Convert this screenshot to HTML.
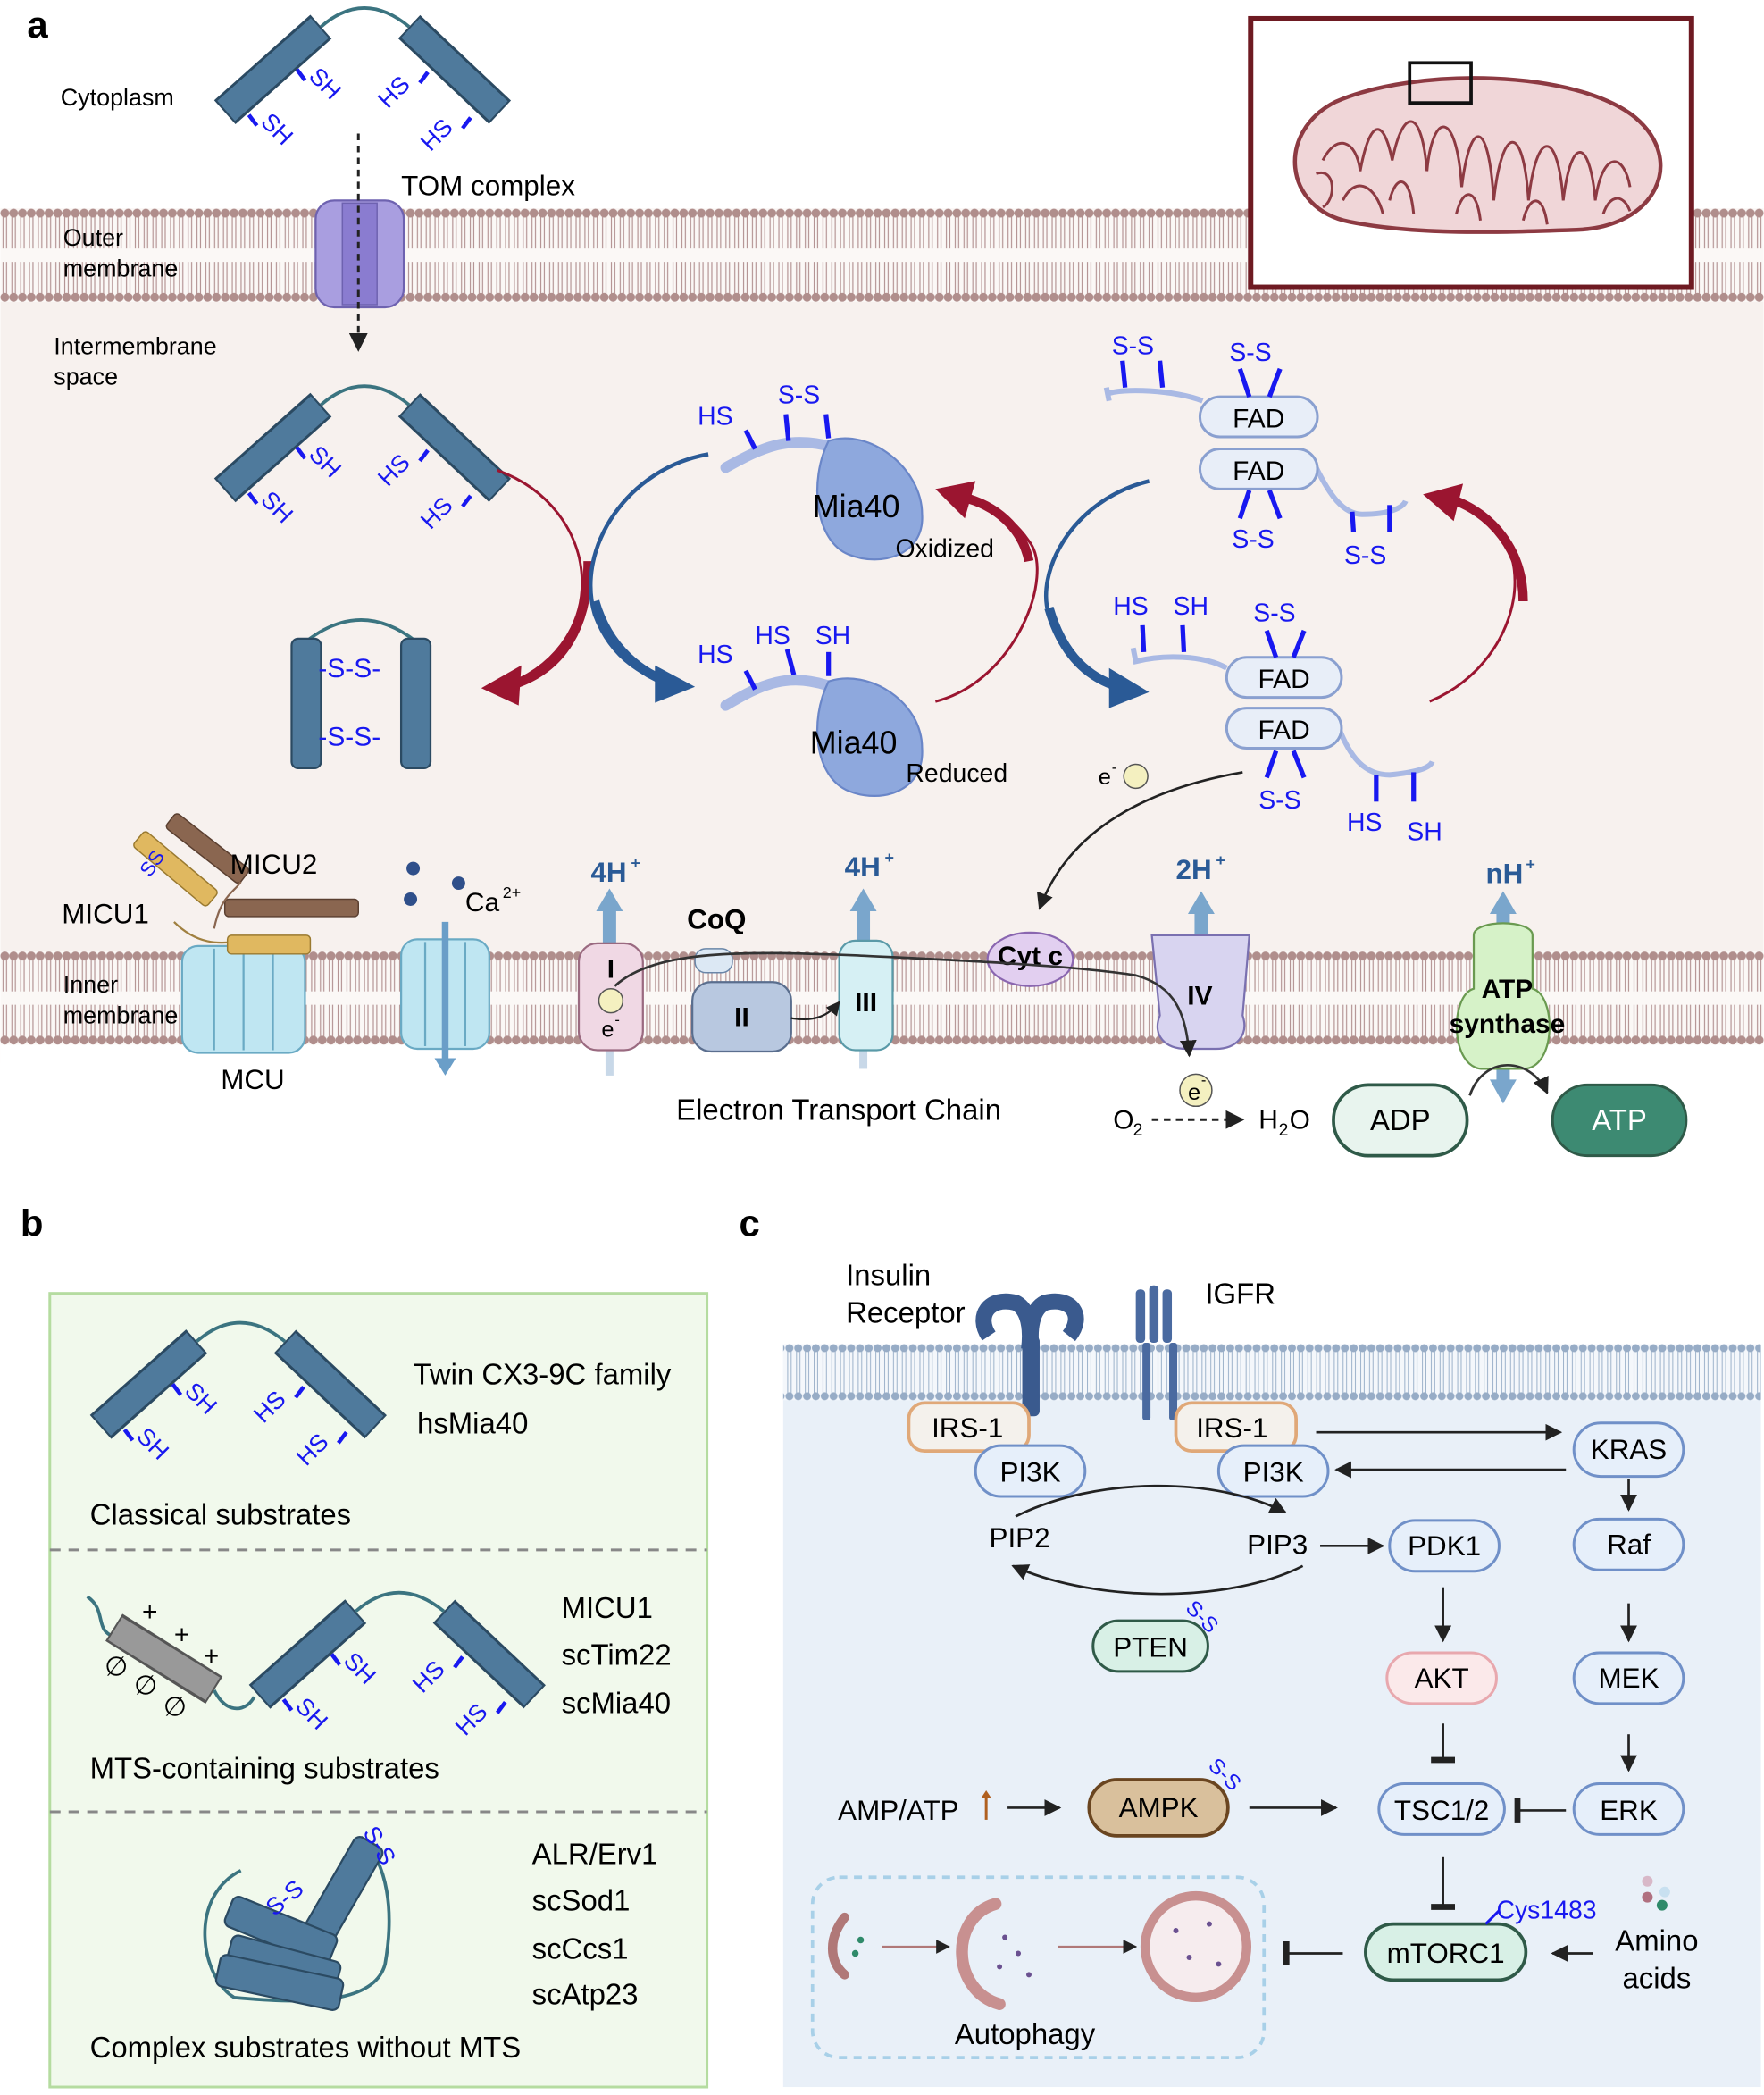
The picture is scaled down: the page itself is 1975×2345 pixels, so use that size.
<!DOCTYPE html>
<html><head><meta charset="utf-8"><style>
html,body{margin:0;padding:0;background:#fff}
svg{display:block}
text{font-family:"Liberation Sans",sans-serif}
</style></head><body>
<svg width="1975" height="2345" viewBox="0 0 1320 1568" xmlns="http://www.w3.org/2000/svg">
<defs>
<pattern id="lip" x="0" y="0" width="6.6" height="70" patternUnits="userSpaceOnUse" patternTransform="translate(0,156)">
<line x1="2" y1="6" x2="2" y2="30" stroke="#b49494" stroke-width="0.8"/>
<line x1="4.6" y1="6" x2="4.6" y2="30" stroke="#b49494" stroke-width="0.8"/>
<line x1="2" y1="40" x2="2" y2="64" stroke="#b49494" stroke-width="0.8"/>
<line x1="4.6" y1="40" x2="4.6" y2="64" stroke="#b49494" stroke-width="0.8"/>
<circle cx="3.3" cy="3.5" r="3.3" fill="#b08e8c"/>
<circle cx="3.3" cy="66.5" r="3.3" fill="#b08e8c"/>
</pattern>
<pattern id="lip2" x="0" y="0" width="6.6" height="70" patternUnits="userSpaceOnUse" patternTransform="translate(0,712)">
<line x1="2" y1="6" x2="2" y2="30" stroke="#b49494" stroke-width="0.8"/>
<line x1="4.6" y1="6" x2="4.6" y2="30" stroke="#b49494" stroke-width="0.8"/>
<line x1="2" y1="40" x2="2" y2="64" stroke="#b49494" stroke-width="0.8"/>
<line x1="4.6" y1="40" x2="4.6" y2="64" stroke="#b49494" stroke-width="0.8"/>
<circle cx="3.3" cy="3.5" r="3.3" fill="#b08e8c"/>
<circle cx="3.3" cy="66.5" r="3.3" fill="#b08e8c"/>
</pattern>
<pattern id="lipb" x="0" y="0" width="6.6" height="42" patternUnits="userSpaceOnUse" patternTransform="translate(0,1006)">
<line x1="2" y1="5" x2="2" y2="37" stroke="#9fb4cc" stroke-width="0.7"/>
<line x1="4.6" y1="5" x2="4.6" y2="37" stroke="#9fb4cc" stroke-width="0.7"/>
<circle cx="3.3" cy="3" r="3" fill="#97acc6"/>
<circle cx="3.3" cy="39" r="3" fill="#97acc6"/>
</pattern>
<marker id="ah" viewBox="0 0 10 10" refX="9" refY="5" markerWidth="7" markerHeight="7" orient="auto"><path d="M0,0 L10,5 L0,10z" fill="#222"/></marker>
<marker id="tb" viewBox="0 0 4 12" refX="2" refY="6" markerWidth="4" markerHeight="10" orient="auto"><rect x="0" y="0" width="3" height="12" fill="#222"/></marker>
<g id="twin">
<path d="M80,10 Q112,-18 146,10" fill="none" stroke="#3b7480" stroke-width="2.5"/>
<line x1="8" y1="74" x2="80" y2="10" stroke="#2b4a62" stroke-width="24"/>
<line x1="9" y1="73" x2="79" y2="11" stroke="#4f7a9c" stroke-width="20"/>
<line x1="146" y1="10" x2="214" y2="74" stroke="#2b4a62" stroke-width="24"/>
<line x1="147" y1="11" x2="213" y2="73" stroke="#4f7a9c" stroke-width="20"/>
<g fill="#1818f0" font-size="18">
<line x1="62" y1="42" x2="68" y2="50" stroke="#1818f0" stroke-width="3"/>
<text x="70" y="48" transform="rotate(45 70 48)">SH</text>
<line x1="26" y1="76" x2="32" y2="84" stroke="#1818f0" stroke-width="3"/>
<text x="34" y="82" transform="rotate(45 34 82)">SH</text>
<line x1="160" y1="44" x2="154" y2="52" stroke="#1818f0" stroke-width="3"/>
<text x="130" y="72" transform="rotate(-45 130 72)">HS</text>
<line x1="192" y1="78" x2="186" y2="86" stroke="#1818f0" stroke-width="3"/>
<text x="162" y="104" transform="rotate(-45 162 104)">HS</text>
</g>
</g>
</defs>

<rect x="0" y="156" width="1320" height="640" fill="#f7f1ee"/>
<rect x="0" y="156" width="1320" height="70" fill="#fbf8f6"/>
<rect x="0" y="156" width="1320" height="70" fill="url(#lip)"/>
<rect x="0" y="712" width="1320" height="70" fill="#fbf8f6"/>
<rect x="0" y="712" width="1320" height="70" fill="url(#lip2)"/>
<rect x="0" y="782" width="1320" height="100" fill="#ffffff"/>

<text x="20" y="28" font-size="28" font-weight="bold">a</text>
<text x="45" y="79" font-size="18">Cytoplasm</text>
<text x="47" y="184" font-size="18">Outer</text>
<text x="47" y="207" font-size="18">membrane</text>
<text x="40" y="265" font-size="18">Intermembrane</text>
<text x="40" y="288" font-size="18">space</text>
<text x="47" y="743" font-size="18">Inner</text>
<text x="47" y="766" font-size="18">membrane</text>

<use href="#twin" x="160" y="10"/>
<rect x="236" y="150" width="66" height="80" rx="14" fill="#a99ee0" stroke="#6e62b0" stroke-width="1.5"/>
<rect x="256" y="152" width="26" height="76" fill="#8a7cd0" stroke="#6e62b0"/>
<line x1="268" y1="100" x2="268" y2="262" stroke="#222" stroke-width="2" stroke-dasharray="5,4" marker-end="url(#ah)"/>
<text x="300" y="146" font-size="21">TOM complex</text>

<rect x="936" y="14" width="330" height="201" fill="#fff" stroke="#6e1a22" stroke-width="4"/>
<path d="M1000,76 C1060,50 1180,52 1224,88 C1262,120 1240,170 1180,172 C1120,174 1060,176 1010,166 C960,156 955,98 1000,76z" fill="#f0d6d8" stroke="#8d3a42" stroke-width="3"/>
<path d="M990,120 C1000,100 1015,104 1018,128 C1025,90 1035,86 1042,120 C1050,80 1064,80 1068,128 C1072,84 1090,80 1094,140 C1100,90 1114,86 1118,150 C1124,94 1140,90 1144,150 C1150,96 1166,96 1170,150 C1176,100 1190,104 1194,150 C1200,110 1216,116 1220,140 M1005,150 C1015,130 1030,140 1035,160 M985,130 C1000,125 1000,150 990,155 M1040,150 C1045,130 1055,130 1058,160 M1090,160 C1095,140 1105,140 1108,165 M1140,165 C1145,145 1155,145 1158,168 M1200,160 C1205,145 1215,145 1220,158" fill="none" stroke="#8d3a42" stroke-width="2"/>
<rect x="1055" y="47" width="46" height="30" fill="none" stroke="#111" stroke-width="2.5"/>

<use href="#twin" x="160" y="293"/>
<path d="M229,480 Q270,448 311,480" fill="none" stroke="#3b7480" stroke-width="2.5"/>
<rect x="218" y="478" width="22" height="97" rx="5" fill="#4f7a9c" stroke="#2b4a62" stroke-width="1.5"/>
<rect x="300" y="478" width="22" height="97" rx="5" fill="#4f7a9c" stroke="#2b4a62" stroke-width="1.5"/>
<g fill="#1818f0" font-size="20"><text x="238" y="507">-S-S-</text><text x="238" y="558">-S-S-</text></g>

<path d="M372,352 C450,380 460,480 380,512" fill="none" stroke="#9b1530" stroke-width="2"/>
<path d="M440,420 C440,470 420,500 385,512" fill="none" stroke="#9b1530" stroke-width="7"/>
<path d="M360,515 L390,498 L388,528z" fill="#9b1530"/>
<path d="M530,340 C470,350 430,410 445,460 C458,495 485,508 505,512" fill="none" stroke="#2a5a96" stroke-width="3"/>
<path d="M445,450 C455,485 480,505 505,512" fill="none" stroke="#2a5a96" stroke-width="7"/>
<path d="M520,514 L490,498 L490,526z" fill="#2a5a96"/>

<path d="M543,350 C570,335 590,325 625,335" fill="none" stroke="#a9b9e4" stroke-width="8" stroke-linecap="round"/>
<path d="M620,330 C650,320 690,350 690,385 C692,415 660,425 635,415 C610,405 605,360 620,330z" fill="#8ea8dd" stroke="#6a86c8" stroke-width="1.5"/>
<text x="608" y="387" font-size="24">Mia40</text>
<text x="670" y="417" font-size="19">Oxidized</text>
<g stroke="#1818f0" stroke-width="3.5"><line x1="558" y1="322" x2="565" y2="336"/><line x1="588" y1="310" x2="590" y2="330"/><line x1="618" y1="310" x2="620" y2="328"/></g>
<g fill="#1818f0" font-size="19"><text x="522" y="318">HS</text><text x="582" y="302">S-S</text></g>
<path d="M700,525 C760,510 790,430 770,405 C760,390 740,375 720,372" fill="none" stroke="#9b1530" stroke-width="2"/>
<path d="M770,420 C765,395 745,378 720,372" fill="none" stroke="#9b1530" stroke-width="7"/>
<path d="M700,366 L730,360 L722,388z" fill="#9b1530"/>
<path d="M543,528 C570,512 590,502 625,515" fill="none" stroke="#a9b9e4" stroke-width="8" stroke-linecap="round"/>
<path d="M620,510 C650,500 690,525 690,560 C692,592 660,602 635,592 C610,582 605,540 620,510z" fill="#8ea8dd" stroke="#6a86c8" stroke-width="1.5"/>
<text x="606" y="564" font-size="24">Mia40</text>
<text x="678" y="585" font-size="19">Reduced</text>
<g stroke="#1818f0" stroke-width="3.5"><line x1="558" y1="502" x2="565" y2="516"/><line x1="589" y1="486" x2="594" y2="505"/><line x1="620" y1="488" x2="620" y2="506"/></g>
<g fill="#1818f0" font-size="19"><text x="522" y="496">HS</text><text x="565" y="482">HS</text><text x="610" y="482">SH</text></g>

<path d="M860,360 C800,375 775,430 785,460 C795,490 820,510 845,516" fill="none" stroke="#2a5a96" stroke-width="3"/>
<path d="M785,455 C795,490 815,510 845,516" fill="none" stroke="#2a5a96" stroke-width="7"/>
<path d="M860,518 L830,500 L830,530z" fill="#2a5a96"/>
<path d="M1070,525 C1130,500 1150,430 1120,395" fill="none" stroke="#9b1530" stroke-width="2"/>
<path d="M1140,450 C1140,410 1115,385 1090,375" fill="none" stroke="#9b1530" stroke-width="7"/>
<path d="M1065,370 L1095,362 L1088,390z" fill="#9b1530"/>

<path d="M828,295 C840,290 880,292 900,300" fill="none" stroke="#a9b9e4" stroke-width="4"/>
<path d="M828,290 L830,300" stroke="#a9b9e4" stroke-width="4"/>
<path d="M985,350 C995,370 1005,385 1020,385 C1040,385 1050,380 1052,375" fill="none" stroke="#a9b9e4" stroke-width="4"/>
<rect x="898" y="297" width="88" height="30" rx="15" fill="#e8eef8" stroke="#8aa0d0" stroke-width="2"/>
<rect x="898" y="336" width="88" height="30" rx="15" fill="#e8eef8" stroke="#8aa0d0" stroke-width="2"/>
<text x="942" y="320" font-size="20" text-anchor="middle">FAD</text>
<text x="942" y="359" font-size="20" text-anchor="middle">FAD</text>
<g stroke="#1818f0" stroke-width="3.5"><line x1="840" y1="270" x2="842" y2="290"/><line x1="868" y1="270" x2="870" y2="290"/><line x1="928" y1="276" x2="935" y2="297"/><line x1="958" y1="276" x2="950" y2="297"/><line x1="928" y1="388" x2="935" y2="367"/><line x1="958" y1="388" x2="950" y2="367"/><line x1="1012" y1="383" x2="1013" y2="398"/><line x1="1040" y1="378" x2="1040" y2="398"/></g>
<g fill="#1818f0" font-size="19"><text x="832" y="265">S-S</text><text x="920" y="270">S-S</text><text x="922" y="410">S-S</text><text x="1006" y="422">S-S</text></g>
<path d="M848,485 L850,495 C870,490 900,490 918,500" fill="none" stroke="#a9b9e4" stroke-width="4"/>
<path d="M1002,545 C1010,565 1020,580 1040,580 C1060,578 1070,575 1072,570" fill="none" stroke="#a9b9e4" stroke-width="4"/>
<rect x="918" y="492" width="86" height="30" rx="15" fill="#e8eef8" stroke="#8aa0d0" stroke-width="2"/>
<rect x="918" y="530" width="86" height="30" rx="15" fill="#e8eef8" stroke="#8aa0d0" stroke-width="2"/>
<text x="961" y="515" font-size="20" text-anchor="middle">FAD</text>
<text x="961" y="553" font-size="20" text-anchor="middle">FAD</text>
<g stroke="#1818f0" stroke-width="3.5"><line x1="855" y1="468" x2="856" y2="488"/><line x1="885" y1="468" x2="886" y2="488"/><line x1="948" y1="472" x2="955" y2="492"/><line x1="976" y1="472" x2="968" y2="492"/><line x1="948" y1="582" x2="955" y2="562"/><line x1="976" y1="582" x2="968" y2="562"/><line x1="1030" y1="580" x2="1030" y2="600"/><line x1="1058" y1="578" x2="1058" y2="600"/></g>
<g fill="#1818f0" font-size="19"><text x="833" y="460">HS</text><text x="878" y="460">SH</text><text x="938" y="465">S-S</text><text x="942" y="605">S-S</text><text x="1008" y="622">HS</text><text x="1053" y="629">SH</text></g>
<text x="822" y="587" font-size="17">e</text><text x="832" y="578" font-size="11">-</text>
<circle cx="850" cy="581" r="9" fill="#f4f0c0" stroke="#555"/>
<path d="M930,578 C860,590 800,620 778,680" fill="none" stroke="#222" stroke-width="1.8" marker-end="url(#ah)"/>

<g transform="rotate(40 130 650)"><rect x="95" y="642" width="72" height="15" rx="3" fill="#e0b860" stroke="#9a7a30"/></g>
<g transform="rotate(38 155 635)"><rect x="120" y="628" width="70" height="14" rx="3" fill="#8a6650" stroke="#5a3f30"/></g>
<rect x="168" y="673" width="100" height="13" rx="3" fill="#8a6650" stroke="#5a3f30"/>
<path d="M160,695 C165,670 175,668 180,660" fill="none" stroke="#8a6650" stroke-width="1.5"/>
<path d="M130,690 C150,710 170,705 175,705" fill="none" stroke="#a08040" stroke-width="1.5"/>
<text x="102" y="652" font-size="15" fill="#1818f0" transform="rotate(-55 112 645)">SS</text>
<text x="172" y="654" font-size="21">MICU2</text>
<text x="46" y="691" font-size="21">MICU1</text>
<rect x="136" y="708" width="92" height="80" rx="12" fill="#bfe6f2" stroke="#6aaac4" stroke-width="1.5"/>
<line x1="160" y1="710" x2="160" y2="786" stroke="#6aaac4" stroke-width="1.5"/>
<line x1="182" y1="710" x2="182" y2="786" stroke="#6aaac4" stroke-width="1.5"/>
<line x1="204" y1="710" x2="204" y2="786" stroke="#6aaac4" stroke-width="1.5"/>
<rect x="170" y="700" width="62" height="14" rx="3" fill="#e0b860" stroke="#9a7a30"/>
<text x="165" y="815" font-size="21">MCU</text>
<rect x="300" y="703" width="66" height="82" rx="12" fill="#bfe6f2" stroke="#6aaac4" stroke-width="1.5"/>
<line x1="318" y1="705" x2="318" y2="783" stroke="#6aaac4" stroke-width="1.5"/>
<line x1="348" y1="705" x2="348" y2="783" stroke="#6aaac4" stroke-width="1.5"/>
<line x1="333" y1="690" x2="333" y2="795" stroke="#6a9ec8" stroke-width="5"/>
<path d="M325,792 L341,792 L333,805z" fill="#6a9ec8"/>
<g fill="#2f4f8a"><circle cx="309" cy="650" r="5"/><circle cx="307" cy="673" r="5"/><circle cx="343" cy="661" r="5"/></g>
<text x="348" y="682" font-size="20">Ca</text><text x="376" y="672" font-size="12">2+</text>

<g fill="#7aa6cc"><rect x="451" y="680" width="10" height="30"/><path d="M446,682 L466,682 L456,665z"/>
<rect x="641" y="680" width="10" height="30"/><path d="M636,682 L656,682 L646,665z"/>
<rect x="894" y="680" width="10" height="24"/><path d="M889,684 L909,684 L899,667z"/>
<rect x="1120" y="680" width="10" height="20"/><path d="M1115,684 L1135,684 L1125,667z"/>
<rect x="1120" y="795" width="10" height="15"/><path d="M1115,808 L1135,808 L1125,826z"/></g>
<rect x="453" y="785" width="6" height="20" fill="#c8d8e8"/>
<rect x="643" y="785" width="6" height="15" fill="#c8d8e8"/>
<g fill="#2a5a96" font-size="21" font-weight="bold"><text x="442" y="660">4H</text><text x="632" y="656">4H</text><text x="880" y="658">2H</text><text x="1112" y="661">nH</text></g>
<g fill="#2a5a96" font-size="12" font-weight="bold"><text x="472" y="650">+</text><text x="662" y="646">+</text><text x="910" y="648">+</text><text x="1142" y="651">+</text></g>
<rect x="433" y="706" width="48" height="80" rx="14" fill="#f0d8e4" stroke="#9a6a80" stroke-width="1.5"/>
<text x="457" y="732" font-size="20" font-weight="bold" text-anchor="middle">I</text>
<circle cx="457" cy="749" r="9" fill="#f4f0c0" stroke="#555"/>
<text x="450" y="776" font-size="17">e</text><text x="460" y="767" font-size="11">-</text>
<text x="514" y="695" font-size="21" font-weight="bold">CoQ</text>
<rect x="520" y="710" width="28" height="18" rx="8" fill="#dce8f4" stroke="#6a86a8"/>
<rect x="518" y="735" width="74" height="52" rx="14" fill="#b8c8e0" stroke="#5a6e8e" stroke-width="1.5"/>
<text x="555" y="768" font-size="20" font-weight="bold" text-anchor="middle">II</text>
<rect x="628" y="704" width="40" height="82" rx="12" fill="#d6f0f4" stroke="#5a9aa8" stroke-width="1.5"/>
<text x="648" y="757" font-size="20" font-weight="bold" text-anchor="middle">III</text>
<path d="M592,762 C610,765 620,760 628,750" fill="none" stroke="#222" stroke-width="1.5" marker-end="url(#ah)"/>
<ellipse cx="771" cy="718" rx="32" ry="20" fill="#e2cff0" stroke="#8a66b0" stroke-width="1.5"/>
<text x="771" y="722" font-size="20" font-weight="bold" text-anchor="middle">Cyt c</text>
<path d="M862,700 L935,700 L930,760 C935,775 925,785 910,785 L888,785 C872,785 862,775 868,760z" fill="#d8d4f0" stroke="#7a70b0" stroke-width="1.5"/>
<text x="898" y="752" font-size="20" font-weight="bold" text-anchor="middle">IV</text>
<path d="M460,738 C490,710 560,712 640,715 C700,718 800,722 850,730 C880,738 888,760 890,790" fill="none" stroke="#333" stroke-width="1.8" marker-end="url(#ah)"/>
<circle cx="895" cy="816" r="12" fill="#f4f0c0" stroke="#555"/>
<text x="889" y="823" font-size="17">e</text><text x="899" y="812" font-size="11">-</text>
<path d="M1103,700 C1103,688 1147,688 1147,700 L1147,740 C1165,745 1165,800 1140,800 L1110,800 C1085,800 1085,745 1103,740z" fill="#d6f2c8" stroke="#6a9a50" stroke-width="1.5"/>
<text x="1128" y="747" font-size="20" font-weight="bold" text-anchor="middle">ATP</text>
<text x="1128" y="773" font-size="20" font-weight="bold" text-anchor="middle">synthase</text>
<path d="M1100,820 C1110,790 1145,790 1158,818" fill="none" stroke="#333" stroke-width="1.8" marker-end="url(#ah)"/>
<rect x="998" y="812" width="100" height="53" rx="26" fill="#e8f4ee" stroke="#2f5a48" stroke-width="2.5"/>
<text x="1048" y="846" font-size="22" text-anchor="middle">ADP</text>
<rect x="1162" y="812" width="100" height="53" rx="26" fill="#3d8a72" stroke="#2f5a48" stroke-width="2"/>
<text x="1212" y="846" font-size="22" text-anchor="middle" fill="#fff">ATP</text>
<text x="506" y="838" font-size="22">Electron Transport Chain</text>
<text x="833" y="845" font-size="20">O</text><text x="848" y="850" font-size="13">2</text>
<line x1="862" y1="838" x2="930" y2="838" stroke="#222" stroke-width="2" stroke-dasharray="5,4" marker-end="url(#ah)"/>
<text x="942" y="845" font-size="20">H</text><text x="957" y="850" font-size="13">2</text><text x="965" y="845" font-size="20">O</text>

<text x="15" y="925" font-size="28" font-weight="bold">b</text>
<rect x="37" y="968" width="492" height="594" fill="#f1f9ec" stroke="#b5dca0" stroke-width="2"/>
<line x1="37" y1="1160" x2="529" y2="1160" stroke="#888" stroke-width="2" stroke-dasharray="8,6"/>
<line x1="37" y1="1356" x2="529" y2="1356" stroke="#888" stroke-width="2" stroke-dasharray="8,6"/>
<use href="#twin" x="67" y="994"/>
<text x="309" y="1036" font-size="22">Twin CX3-9C family</text>
<text x="312" y="1073" font-size="22">hsMia40</text>
<text x="67" y="1141" font-size="22">Classical substrates</text>
<path d="M65,1195 C80,1205 70,1220 85,1225" fill="none" stroke="#3b7480" stroke-width="2.5"/>
<path d="M160,1265 C170,1285 185,1280 190,1270" fill="none" stroke="#3b7480" stroke-width="2.5"/>
<line x1="85" y1="1218" x2="160" y2="1265" stroke="#555" stroke-width="24"/>
<line x1="86" y1="1219" x2="159" y2="1264" stroke="#999" stroke-width="20"/>
<g font-size="20"><text x="106" y="1213">+</text><text x="130" y="1230">+</text><text x="152" y="1246">+</text><text x="78" y="1254">∅</text><text x="100" y="1268">∅</text><text x="122" y="1284">∅</text></g>
<use href="#twin" x="186" y="1196"/>
<text x="420" y="1211" font-size="22">MICU1</text>
<text x="420" y="1246" font-size="22">scTim22</text>
<text x="420" y="1282" font-size="22">scMia40</text>
<text x="67" y="1331" font-size="22">MTS-containing substrates</text>
<path d="M180,1400 C140,1420 150,1480 175,1495 C230,1500 280,1500 288,1470 C295,1430 290,1395 270,1375" fill="none" stroke="#3b7480" stroke-width="2.5"/>
<g stroke="#2b4a62" stroke-width="1.5" fill="#4f7a9c">
<g transform="rotate(-60 255 1418)"><rect x="210" y="1406" width="90" height="24" rx="5"/></g>
<g transform="rotate(22 210 1445)"><rect x="168" y="1433" width="84" height="24" rx="5"/></g>
<g transform="rotate(15 212 1470)"><rect x="170" y="1458" width="84" height="24" rx="5"/></g>
<g transform="rotate(12 210 1484)"><rect x="162" y="1472" width="94" height="24" rx="5"/></g>
</g>
<text x="198" y="1425" font-size="18" fill="#1818f0" transform="rotate(-40 215 1420)">S-S</text>
<text x="266" y="1380" font-size="18" fill="#1818f0" transform="rotate(60 276 1380)">S-S</text>
<text x="398" y="1395" font-size="22">ALR/Erv1</text>
<text x="398" y="1430" font-size="22">scSod1</text>
<text x="398" y="1466" font-size="22">scCcs1</text>
<text x="398" y="1500" font-size="22">scAtp23</text>
<text x="67" y="1540" font-size="22">Complex substrates without MTS</text>

<text x="553" y="925" font-size="28" font-weight="bold">c</text>
<rect x="586" y="1006" width="732" height="556" fill="#e9f0f8"/>
<rect x="586" y="1006" width="732" height="42" fill="#f4f7fb"/>
<rect x="586" y="1006" width="732" height="42" fill="url(#lipb)"/>
<text x="633" y="962" font-size="22">Insulin</text>
<text x="633" y="990" font-size="22">Receptor</text>
<path d="M740,1000 C730,985 740,970 760,975 C770,980 772,995 770,1010 M800,1000 C812,985 802,970 782,975 C772,980 770,995 772,1010" fill="none" stroke="#3a5a8e" stroke-width="12"/>
<rect x="765" y="1000" width="13" height="60" rx="4" fill="#3a5a8e"/>
<g fill="#4a6aa0"><rect x="850" y="965" width="7" height="40" rx="3"/><rect x="860" y="962" width="7" height="43" rx="3"/><rect x="870" y="965" width="7" height="40" rx="3"/><rect x="855" y="1005" width="6" height="58" rx="2"/><rect x="875" y="1005" width="6" height="58" rx="2"/></g>
<text x="902" y="976" font-size="22">IGFR</text>
<g stroke-width="2.5">
<rect x="680" y="1050" width="90" height="36" rx="12" fill="#f4f1ec" stroke="#e0a878"/>
<rect x="880" y="1050" width="90" height="36" rx="12" fill="#f4f1ec" stroke="#e0a878"/>
</g>
<text x="724" y="1076" font-size="21" text-anchor="middle">IRS-1</text>
<text x="922" y="1076" font-size="21" text-anchor="middle">IRS-1</text>
<g fill="#e6effa" stroke="#7090c8" stroke-width="2">
<rect x="730" y="1082" width="82" height="38" rx="19"/>
<rect x="912" y="1082" width="82" height="38" rx="19"/>
<rect x="1178" y="1065" width="82" height="40" rx="20"/>
<rect x="1040" y="1138" width="82" height="38" rx="19"/>
<rect x="1178" y="1137" width="82" height="38" rx="19"/>
<rect x="1178" y="1237" width="82" height="38" rx="19"/>
<rect x="1032" y="1335" width="94" height="38" rx="19"/>
<rect x="1178" y="1335" width="82" height="38" rx="19"/>
</g>
<g font-size="21" text-anchor="middle">
<text x="771" y="1109">PI3K</text><text x="953" y="1109">PI3K</text><text x="1219" y="1092">KRAS</text>
<text x="1081" y="1164">PDK1</text><text x="1219" y="1163">Raf</text><text x="1219" y="1263">MEK</text>
<text x="1079" y="1362">TSC1/2</text><text x="1219" y="1362">ERK</text>
<text x="763" y="1158">PIP2</text><text x="956" y="1163">PIP3</text>
</g>
<rect x="1038" y="1237" width="82" height="38" rx="19" fill="#fbe9ea" stroke="#e8a8ae" stroke-width="2"/>
<text x="1079" y="1263" font-size="21" text-anchor="middle">AKT</text>
<rect x="818" y="1213" width="86" height="38" rx="19" fill="#d8f0e6" stroke="#2f5a48" stroke-width="2"/>
<text x="861" y="1240" font-size="21" text-anchor="middle">PTEN</text>
<text x="885" y="1212" font-size="16" fill="#1818f0" transform="rotate(45 895 1210)">S-S</text>
<rect x="815" y="1332" width="104" height="42" rx="21" fill="#d9c09c" stroke="#6a4520" stroke-width="2.5"/>
<text x="867" y="1360" font-size="21" text-anchor="middle">AMPK</text>
<text x="902" y="1330" font-size="16" fill="#1818f0" transform="rotate(45 912 1328)">S-S</text>
<rect x="1022" y="1440" width="120" height="42" rx="21" fill="#d8f0e6" stroke="#2f5a48" stroke-width="2.5"/>
<text x="1082" y="1469" font-size="21" text-anchor="middle">mTORC1</text>
<text x="1120" y="1436" font-size="19" fill="#1818f0">Cys1483</text>
<line x1="1112" y1="1440" x2="1122" y2="1430" stroke="#1818f0" stroke-width="2"/>
<text x="627" y="1362" font-size="21">AMP/ATP</text>
<line x1="738" y1="1362" x2="738" y2="1342" stroke="#b06020" stroke-width="2"/>
<path d="M734,1346 L742,1346 L738,1340z" fill="#b06020"/>
<text x="1240" y="1460" font-size="22" text-anchor="middle">Amino</text>
<text x="1240" y="1488" font-size="22" text-anchor="middle">acids</text>
<circle cx="1233" cy="1408" r="4" fill="#d8b8c8"/><circle cx="1246" cy="1416" r="4" fill="#c8e0f0"/><circle cx="1233" cy="1420" r="4" fill="#b07080"/><circle cx="1244" cy="1426" r="4" fill="#2f8a6a"/>
<g stroke="#222" stroke-width="1.8" fill="none">
<line x1="985" y1="1072" x2="1168" y2="1072" marker-end="url(#ah)"/>
<line x1="1172" y1="1100" x2="1000" y2="1100" marker-end="url(#ah)"/>
<path d="M760,1135 C820,1105 910,1105 962,1132" marker-end="url(#ah)"/>
<path d="M975,1172 C920,1200 820,1200 758,1172" marker-end="url(#ah)"/>
<line x1="988" y1="1157" x2="1035" y2="1157" marker-end="url(#ah)"/>
<line x1="1219" y1="1107" x2="1219" y2="1130" marker-end="url(#ah)"/>
<line x1="1219" y1="1200" x2="1219" y2="1228" marker-end="url(#ah)"/>
<line x1="1219" y1="1298" x2="1219" y2="1325" marker-end="url(#ah)"/>
<line x1="1080" y1="1188" x2="1080" y2="1228" marker-end="url(#ah)"/>
<line x1="1080" y1="1290" x2="1080" y2="1318" marker-end="url(#tb)"/>
<line x1="1080" y1="1390" x2="1080" y2="1428" marker-end="url(#tb)"/>
<line x1="1172" y1="1355" x2="1135" y2="1355" marker-end="url(#tb)"/>
<line x1="754" y1="1353" x2="793" y2="1353" marker-end="url(#ah)"/>
<line x1="935" y1="1353" x2="1000" y2="1353" marker-end="url(#ah)"/>
<line x1="1192" y1="1462" x2="1162" y2="1462" marker-end="url(#ah)"/>
<line x1="1005" y1="1462" x2="962" y2="1462" marker-end="url(#tb)"/>
</g>
<rect x="608" y="1405" width="338" height="135" rx="20" fill="none" stroke="#a8d0e8" stroke-width="2.5" stroke-dasharray="6,5"/>
<path d="M632,1435 C620,1450 620,1468 632,1478" fill="none" stroke="#b07878" stroke-width="7" stroke-linecap="round"/>
<g fill="#2f8a6a"><circle cx="644" cy="1452" r="2.5"/><circle cx="640" cy="1462" r="2.5"/></g>
<line x1="660" y1="1457" x2="710" y2="1457" stroke="#b07878" stroke-width="1.5" marker-end="url(#ah)"/>
<path d="M745,1425 C710,1435 712,1490 748,1500" fill="none" stroke="#c89090" stroke-width="9" stroke-linecap="round"/>
<g fill="#6a5090"><circle cx="752" cy="1450" r="2"/><circle cx="762" cy="1462" r="2"/><circle cx="748" cy="1472" r="2"/><circle cx="770" cy="1478" r="2"/></g>
<line x1="792" y1="1457" x2="850" y2="1457" stroke="#b07878" stroke-width="1.5" marker-end="url(#ah)"/>
<circle cx="895" cy="1457" r="38" fill="#f6ecee" stroke="#c89090" stroke-width="7"/>
<g fill="#6a5090"><circle cx="880" cy="1445" r="2"/><circle cx="905" cy="1440" r="2"/><circle cx="890" cy="1465" r="2"/><circle cx="912" cy="1470" r="2"/></g>
<text x="767" y="1530" font-size="22" text-anchor="middle">Autophagy</text>
</svg>
</body></html>
